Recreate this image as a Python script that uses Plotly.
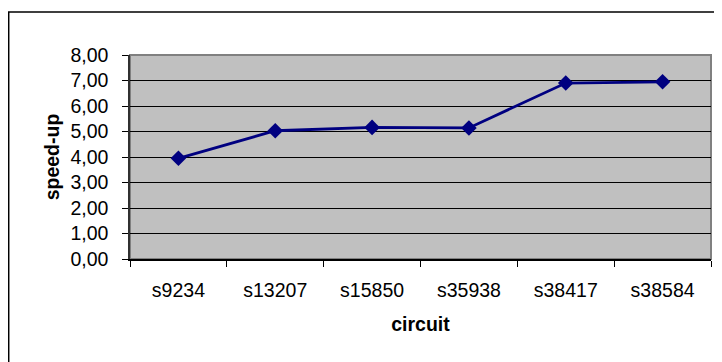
import plotly.graph_objects as go

circuits = ["s9234", "s13207", "s15850", "s35938", "s38417", "s38584"]
speedup = [3.95, 5.03, 5.16, 5.14, 6.90, 6.95]
y_ticks = [0, 1, 2, 3, 4, 5, 6, 7, 8]

FONT = "Liberation Sans, Arial, sans-serif"

fig = go.Figure()
fig.add_trace(go.Scatter(
    x=circuits, y=speedup, mode="lines+markers",
    line=dict(color="#000080", width=2.8),
    marker=dict(symbol="diamond", size=12, color="#000080"),
    showlegend=False,
))

OFF = 8  # page body margin
L, R, T, B = 129.5 - OFF, 711.5 - OFF, 55 - OFF, 259.3 - OFF
W, H = 722, 362
pw, ph = R - L, B - T

fig.update_layout(
    width=W, height=H,
    margin=dict(l=L, r=W - R, t=T, b=H - B, pad=0, autoexpand=False),
    paper_bgcolor="white", plot_bgcolor="#C0C0C0",
    separators=", ",
    font=dict(family=FONT, size=19.5, color="black"),
    xaxis=dict(
        type="category", range=[-0.5, 5.5],
        tickson="boundaries", ticks="outside", ticklen=6, tickcolor="black", tickwidth=1,
        showline=True, linecolor="black", linewidth=1.5, showgrid=False,
        ticklabelstandoff=13, automargin=False,
        title=dict(text="<b>circuit</b>", font=dict(size=19.5), standoff=17),
        zeroline=False,
    ),
    yaxis=dict(
        range=[0, 8], tickvals=y_ticks, tickformat=".2f",
        ticks="outside", ticklen=6, tickcolor="black", tickwidth=1,
        showline=True, linecolor="#303030", linewidth=1.5,
        showgrid=True, gridcolor="black", gridwidth=1,
        ticklabelstandoff=10, zeroline=False, automargin=False,
        title=dict(text="<b>speed-up</b>", font=dict(size=19.5), standoff=6),
    ),
    shapes=[
        dict(type="rect", xref="paper", yref="paper",
             x0=0, x1=1, y0=0, y1=1,
             line=dict(color="#808080", width=2), layer="below"),
        dict(type="rect", xref="paper", yref="paper",
             x0=(8 - OFF - L) / pw, x1=(W + 20 - L) / pw,
             y0=(B - (H + 20)) / ph, y1=(B - (12 - OFF)) / ph,
             line=dict(color="black", width=1.5)),
    ],
)

fig.write_html("out.html")
